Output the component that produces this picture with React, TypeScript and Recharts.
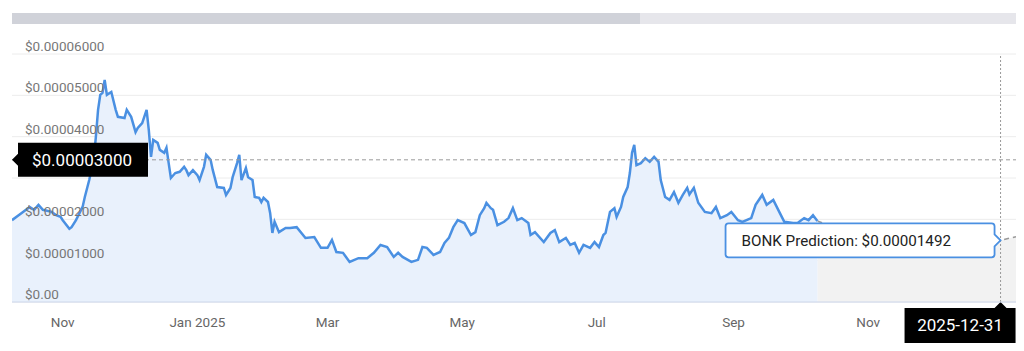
import React from 'react';
import { ComposedChart, Area, XAxis, YAxis, CartesianGrid, ReferenceLine, ReferenceDot } from 'recharts';

// prices are in units of 1e-5 USD
const priceDates = [
  '2024-10-09', '2024-10-12', '2024-10-14', '2024-10-17', '2024-10-19', '2024-10-21', '2024-10-23', '2024-10-27', '2024-10-29', '2024-10-31',
  '2024-11-01', '2024-11-04', '2024-11-05', '2024-11-07', '2024-11-10', '2024-11-11', '2024-11-13', '2024-11-15', '2024-11-16', '2024-11-17',
  '2024-11-18', '2024-11-19', '2024-11-20', '2024-11-21', '2024-11-23', '2024-11-25', '2024-11-26', '2024-11-29', '2024-11-30', '2024-12-02',
  '2024-12-04', '2024-12-05', '2024-12-07', '2024-12-09', '2024-12-10', '2024-12-11', '2024-12-12', '2024-12-14', '2024-12-15', '2024-12-17',
  '2024-12-18', '2024-12-19', '2024-12-20', '2024-12-22', '2024-12-24', '2024-12-26', '2024-12-27', '2024-12-28', '2024-12-30', '2025-01-01',
  '2025-01-02', '2025-01-04', '2025-01-05', '2025-01-07', '2025-01-08', '2025-01-10', '2025-01-13', '2025-01-14', '2025-01-16', '2025-01-17',
  '2025-01-19', '2025-01-20', '2025-01-21', '2025-01-23', '2025-01-24', '2025-01-26', '2025-01-27', '2025-01-29', '2025-01-30', '2025-01-31',
  '2025-02-02', '2025-02-03', '2025-02-04', '2025-02-05', '2025-02-07', '2025-02-10', '2025-02-12', '2025-02-15', '2025-02-19', '2025-02-23',
  '2025-02-26', '2025-03-01', '2025-03-03', '2025-03-05', '2025-03-08', '2025-03-11', '2025-03-15', '2025-03-19', '2025-03-22', '2025-03-25',
  '2025-03-28', '2025-03-31', '2025-04-02', '2025-04-04', '2025-04-08', '2025-04-11', '2025-04-13', '2025-04-15', '2025-04-18', '2025-04-21',
  '2025-04-23', '2025-04-25', '2025-04-27', '2025-04-29', '2025-05-02', '2025-05-05', '2025-05-07', '2025-05-09', '2025-05-11', '2025-05-12',
  '2025-05-14', '2025-05-15', '2025-05-17', '2025-05-20', '2025-05-22', '2025-05-24', '2025-05-26', '2025-05-28', '2025-05-31', '2025-06-01',
  '2025-06-03', '2025-06-07', '2025-06-10', '2025-06-12', '2025-06-14', '2025-06-17', '2025-06-19', '2025-06-21', '2025-06-23', '2025-06-25',
  '2025-06-28', '2025-06-30', '2025-07-02', '2025-07-04', '2025-07-05', '2025-07-07', '2025-07-09', '2025-07-10', '2025-07-12', '2025-07-13',
  '2025-07-15', '2025-07-16', '2025-07-17', '2025-07-18', '2025-07-19', '2025-07-21', '2025-07-23', '2025-07-25', '2025-07-27', '2025-07-29',
  '2025-07-30', '2025-08-01', '2025-08-03', '2025-08-05', '2025-08-07', '2025-08-09', '2025-08-11', '2025-08-12', '2025-08-14', '2025-08-16',
  '2025-08-19', '2025-08-22', '2025-08-24', '2025-08-26', '2025-08-29', '2025-08-31', '2025-09-03', '2025-09-05', '2025-09-09', '2025-09-11',
  '2025-09-14', '2025-09-16', '2025-09-19', '2025-09-22', '2025-09-24', '2025-09-28', '2025-09-30', '2025-10-03', '2025-10-05', '2025-10-07', '2025-10-09',
];
const priceValues = [
  1.98, 2.10, 2.18, 2.30, 2.23, 2.35, 2.23, 2.18, 2.10, 2.06,
  1.98, 1.77, 1.81, 1.98, 2.30, 2.54, 2.95, 3.44, 3.99, 4.65,
  5.01, 5.06, 5.37, 5.01, 5.08, 4.65, 4.48, 4.45, 4.65, 4.48,
  4.11, 4.21, 4.33, 4.65, 4.16, 3.51, 3.92, 3.85, 3.68, 3.61,
  3.73, 3.36, 3.00, 3.12, 3.15, 3.27, 3.19, 3.07, 3.19, 3.07,
  2.95, 3.27, 3.56, 3.44, 3.19, 2.78, 2.76, 2.59, 2.76, 3.02,
  3.36, 3.56, 2.95, 3.24, 3.02, 2.95, 2.54, 2.52, 2.42, 2.52,
  2.42, 2.15, 1.67, 1.94, 1.69, 1.79, 1.79, 1.81, 1.55, 1.57,
  1.31, 1.31, 1.50, 1.21, 1.19, 0.97, 1.06, 1.06, 1.19, 1.38,
  1.33, 1.09, 1.19, 1.09, 0.97, 1.02, 1.33, 1.31, 1.14, 1.21,
  1.43, 1.55, 1.81, 1.98, 1.91, 1.62, 1.69, 2.10, 2.27, 2.40,
  2.27, 2.23, 1.86, 1.94, 2.03, 2.27, 1.98, 2.03, 1.91, 1.62,
  1.69, 1.45, 1.67, 1.74, 1.45, 1.55, 1.38, 1.43, 1.19, 1.38,
  1.31, 1.45, 1.33, 1.62, 1.67, 2.18, 2.27, 2.06, 2.30, 2.54,
  2.78, 3.12, 3.61, 3.80, 3.31, 3.36, 3.48, 3.39, 3.51, 3.39,
  2.95, 2.54, 2.47, 2.66, 2.40, 2.59, 2.76, 2.60, 2.76, 2.40,
  2.18, 2.15, 2.30, 2.03, 2.10, 2.18, 1.98, 1.94, 2.03, 2.35,
  2.59, 2.35, 2.47, 2.15, 1.94, 1.91, 1.91, 2.03, 1.98, 2.10, 1.96,
];

const predictionDates = ['2025-10-09', '2025-10-22', '2025-12-31', '2026-01-07'];
const predictionValues = [1.96, 1.7, 1.492, 1.58];

const tickDates = ['2024-11-01', '2025-01-01', '2025-03-01', '2025-05-01', '2025-07-01', '2025-09-01', '2025-11-01'];
const tickLabels = ['Nov', 'Jan 2025', 'Mar', 'May', 'Jul', 'Sep', 'Nov'];
const yTicks = [0, 1, 2, 3, 4, 5, 6];

const domainStart = '2024-10-09';
const domainEnd = '2026-01-07';
const crosshairValue = 3.44;
const crosshairLabel = '$0.00003000';
const targetDate = '2025-12-31';
const targetValue = 1.492;

const ts = (s: string) => Date.parse(s);

const rows = new Map<number, any>();
priceDates.forEach((d, i) => {
  const k = ts(d);
  rows.set(k, { ...(rows.get(k) || { t: k }), price: priceValues[i] });
});
predictionDates.forEach((d, i) => {
  const k = ts(d);
  rows.set(k, { ...(rows.get(k) || { t: k }), prediction: predictionValues[i] });
});
const chartData = [...rows.values()].sort((a, b) => a.t - b.t);

const fmtPrice = (v: number) => (v === 0 ? '$0.00' : `$${(v * 1e-5).toFixed(8)}`);

const YTick = ({ y, payload }: any) => {
  // the crosshair flag sits over this label in the original, so it is not visible there
  if (Math.abs(payload.value - crosshairValue) < 0.5) return null;
  return (
    <text x={25} y={y - 3} fill="#777" fontSize={13.5}>
      {fmtPrice(payload.value)}
    </text>
  );
};

const XTick = ({ x, y, payload }: any) => {
  const i = tickDates.findIndex((d) => ts(d) === payload.value);
  return (
    <text x={x} y={y + 25} fill="#666" fontSize={13.5} textAnchor="middle">
      {tickLabels[i]}
    </text>
  );
};

// black flag on the left end of the horizontal crosshair
const CrosshairLabel = ({ viewBox }: any) => {
  const { x, y } = viewBox;
  const bx = x + 6;
  const w = 130;
  return (
    <g>
      <path
        d={`M${x},${y} L${bx},${y - 6} L${bx},${y - 17} L${bx + w},${y - 17} L${bx + w},${y + 17} L${bx},${y + 17} L${bx},${y + 6} Z`}
        fill="#000"
      />
      <text x={bx + 14} y={y + 6} fill="#fff" fontSize={17}>
        {crosshairLabel}
      </text>
    </g>
  );
};

// black flag under the vertical crosshair
const DateLabel = ({ viewBox }: any) => {
  const x = viewBox.x;
  const y = viewBox.y + viewBox.height;
  const top = y + 6;
  return (
    <g>
      <path
        d={`M${x},${y} L${x + 6},${top} L${x + 15},${top} L${x + 15},${top + 35} L${x - 96},${top + 35} L${x - 96},${top} L${x - 6},${top} Z`}
        fill="#000"
      />
      <text x={x - 40.5} y={top + 23} fill="#fff" fontSize={17} textAnchor="middle">
        {targetDate}
      </text>
    </g>
  );
};

const PredictionTip = ({ viewBox }: any) => {
  const cx = viewBox.x + viewBox.width / 2;
  const cy = viewBox.y + viewBox.height / 2;
  const rx = cx - 6;
  const bx = cx - 275;
  const by = cy - 17;
  const h = 34;
  const r = 3;
  const d = `M${bx + r},${by} H${rx - r} Q${rx},${by} ${rx},${by + r} V${cy - 6} L${cx},${cy} L${rx},${cy + 6} V${by + h - r} Q${rx},${by + h} ${rx - r},${by + h} H${bx + r} Q${bx},${by + h} ${bx},${by + h - r} V${by + r} Q${bx},${by} ${bx + r},${by} Z`;
  return (
    <g>
      <path d={d} fill="#fff" stroke="#4a90e2" strokeWidth={1.8} />
      <text x={bx + 16} y={cy + 6} fill="#222" fontSize={15.2}>
        {`BONK Prediction: ${fmtPrice(targetValue)}`}
      </text>
    </g>
  );
};

export default function App() {
  return (
    <div
      style={{
        position: 'absolute',
        left: 0,
        top: 0,
        width: 1024,
        height: 351,
        background: '#fff',
        overflow: 'hidden',
        fontFamily: 'Roboto, sans-serif',
      }}
    >
      {/* navigator scrollbar */}
      <div style={{ position: 'absolute', left: 12, top: 13, width: 628, height: 11, background: '#d0d2d9' }} />
      <div style={{ position: 'absolute', left: 640, top: 13, width: 376, height: 11, background: '#e6e6eb' }} />
      <ComposedChart
        width={1024}
        height={351}
        data={chartData}
        margin={{ top: 54, right: 8, bottom: 19, left: 11 }}
      >
        <CartesianGrid vertical={false} stroke="#ececec" />
        <XAxis
          dataKey="t"
          type="number"
          domain={[ts(domainStart), ts(domainEnd)]}
          ticks={tickDates.map(ts)}
          allowDataOverflow
          height={30}
          tickSize={0}
          tickMargin={0}
          tickLine={false}
          axisLine={{ stroke: '#ccd6eb' }}
          tick={<XTick />}
        />
        <YAxis
          type="number"
          domain={[0, 6]}
          ticks={yTicks}
          width={1}
          axisLine={false}
          tickLine={false}
          interval={0}
          tick={<YTick />}
        />
        <Area
          type="linear"
          dataKey="prediction"
          stroke="#999"
          strokeWidth={1.5}
          strokeDasharray="5 4"
          fill="#f2f2f2"
          fillOpacity={1}
          isAnimationActive={false}
        />
        <Area
          type="linear"
          dataKey="price"
          stroke="#4a90e2"
          strokeWidth={2.5}
          fill="#e9f1fc"
          fillOpacity={1}
          isAnimationActive={false}
        />
        <ReferenceLine y={crosshairValue} stroke="#999" strokeDasharray="4 3" label={CrosshairLabel} />
        <ReferenceLine x={ts(targetDate)} stroke="#999" strokeDasharray="2 2" label={DateLabel} />
        <ReferenceDot
          x={ts(targetDate)}
          y={targetValue}
          r={2}
          fill="none"
          stroke="none"
          label={PredictionTip}
        />
      </ComposedChart>
    </div>
  );
}
